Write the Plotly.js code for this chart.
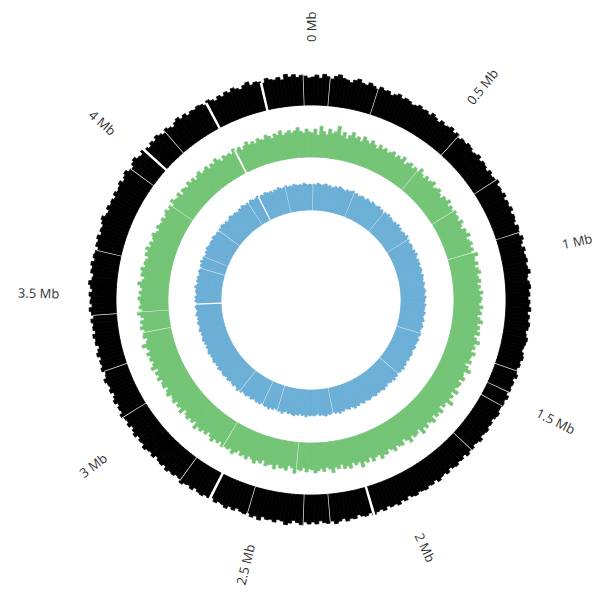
<!DOCTYPE html>
<html>
<head>
<meta charset="utf-8">
<script src="https://cdn.plot.ly/plotly-3.0.1.min.js"></script>
<style>
html, body { margin: 0; padding: 0; background: #fff; }
#plot { width: 604px; height: 604px; }
</style>
</head>
<body>
<div id="plot"></div>
<script>
// genome length and ruler
const genomeMb = 4.64;
const tickMb = [0, 0.5, 1, 1.5, 2, 2.5, 3, 3.5, 4];
const tickLabels = ['0 Mb', '0.5 Mb', '1 Mb', '1.5 Mb', '2 Mb', '2.5 Mb', '3 Mb', '3.5 Mb', '4 Mb'];

// outer track (black), one value per window, clockwise from 0 Mb
const outerTrack = [
  28,30,27,31,29,27,30,32,29,28,26,29,31,28,27,30,28,26,29,27,28,25,27,29,26,28,27,25,26,28,
  26,27,25,28,26,24,27,25,26,28,25,27,24,26,25,27,26,24,25,27,24,26,25,23,26,24,25,27,24,25,
  24,26,23,25,24,26,23,25,24,22,25,24,23,26,24,22,25,23,24,25,23,24,26,23,22,24,25,23,24,22,
  24,23,25,22,24,23,25,24,22,23,25,24,23,22,24,25,23,24,22,23,25,22,24,23,24,22,25,23,24,23,
  23,25,24,22,24,23,25,24,23,26,24,23,25,24,26,23,25,24,26,25,23,26,24,25,27,24,26,25,27,26,
  25,27,26,24,27,25,28,26,27,25,28,26,27,29,26,28,27,25,28,27,29,26,28,30,27,29,28,26,29,27,
  29,27,30,28,26,29,31,28,27,30,28,29,27,31,28,30,27,29,28,26,29,27,30,28,27,29,26,28,27,29,
  28,26,29,27,28,30,27,26,28,27,29,26,28,27,25,28,26,27,29,26,27,25,28,26,24,27,25,26,28,25,
  26,24,27,25,23,26,24,25,27,24,23,26,24,25,23,26,24,22,25,24,26,23,25,24,26,23,25,27,24,26,
  25,27,24,26,28,25,24,27,26,28,25,27,26,24,27,26,28,25,27,26,28,30,27,26,29,27,28,26,29,27,
  28,30,27,29,31,28,27,30,32,29,28,31,29,27,30,28,31,29,27,30,28,26,29,31,28,30,27,29,28,30,
  29,27,30,28,26,29,27,30,28,31,29,27,30,32,28,30,29,27,31,29,28,30,27,32,29,31,28,30,29,27
];

// middle track (green)
const middleTrack = [
  24,28,22,31,26,23,29,25,27,33,24,28,22,26,30,25,27,23,29,26,24,28,25,22,27,24,26,23,25,27,
  23,26,24,28,22,25,27,23,26,24,29,25,23,27,24,26,28,23,25,27,24,22,26,25,28,23,26,24,27,25,
  26,24,28,25,23,27,26,29,24,26,28,25,27,24,30,26,25,28,24,27,29,25,26,28,24,27,25,29,26,28,
  27,25,29,26,28,24,27,30,25,28,26,29,24,27,31,26,28,25,30,27,26,29,24,28,32,26,27,30,25,29,
  28,26,31,25,29,27,33,26,28,24,30,27,29,25,31,28,26,30,27,32,25,28,29,26,31,27,24,29,28,26,
  30,27,25,29,28,31,26,27,30,25,29,27,32,26,28,25,30,27,29,24,28,26,31,27,25,29,26,28,30,27,
  26,29,25,28,27,31,26,24,29,27,28,25,30,26,27,29,24,28,26,30,27,25,29,26,28,24,27,30,26,28,
  27,29,25,28,26,30,27,24,28,26,29,27,31,25,28,26,29,27,24,30,26,28,25,29,27,26,30,28,25,29,
  28,26,30,27,29,25,31,28,26,29,27,30,26,28,32,27,25,29,28,26,30,27,29,25,28,31,26,29,27,28,
  30,27,29,26,28,31,27,25,29,28,30,26,28,27,25,29,27,30,26,28,25,27,29,26,24,28,26,25,27,24,
  26,28,25,27,24,29,26,25,28,23,27,26,24,28,25,27,23,26,28,24,25,27,23,26,24,28,25,22,26,24,
  25,23,27,24,26,22,25,28,24,26,23,27,25,24,28,26,23,27,25,29,24,26,28,25,27,30,26,24,28,25
];

// inner track (blue)
const innerTrack = [
  25,26,25,27,26,25,26,27,25,26,24,25,26,25,27,26,25,24,26,25,26,27,25,26,24,25,26,25,24,26,
  25,24,26,25,24,25,26,24,25,23,25,24,26,24,25,24,23,25,24,26,24,25,23,24,25,24,26,24,25,23,
  24,25,24,23,25,24,26,24,23,25,24,25,23,24,25,24,23,25,24,24,23,25,24,23,24,25,24,23,25,24,
  24,23,25,24,24,23,25,24,23,24,25,23,24,25,24,23,24,25,24,23,25,24,24,23,25,24,23,24,25,24,
  24,25,23,24,25,24,26,24,25,24,23,25,24,26,24,25,24,23,25,24,26,25,24,25,24,26,25,24,25,26,
  25,24,26,25,24,26,25,27,25,24,26,25,24,26,25,27,25,26,24,25,26,25,27,26,25,26,24,25,26,25,
  26,25,27,25,26,24,26,25,27,26,25,26,24,25,27,25,26,25,24,26,25,27,25,26,25,24,26,25,26,24,
  25,26,24,25,26,25,24,26,25,27,25,24,26,25,24,25,26,24,25,26,25,24,25,26,24,25,24,26,25,24,
  25,24,26,25,24,25,23,25,24,26,25,24,25,24,26,25,24,25,26,24,25,24,26,25,24,25,26,25,24,26,
  25,26,24,25,26,25,27,25,24,26,25,26,24,25,26,25,24,26,25,27,25,26,25,24,26,25,27,26,25,26,
  26,25,27,26,25,26,24,26,25,27,26,25,26,24,25,27,26,25,26,25,24,26,25,27,26,25,26,25,27,26,
  25,26,27,25,26,25,27,26,25,26,24,26,25,27,26,25,26,27,25,26,25,27,26,25,26,25,27,26,25,26
];

// empty windows (Mb)
const outerGapsThin = [0.064, 0.228, 0.541, 0.735, 0.928, 1.405, 1.482, 1.534, 1.714, 2.256, 2.346, 2.534, 2.784, 3.068, 3.235, 3.428, 3.648, 3.944, 4.112, 4.614];
const outerGapsWide = [2.109, 2.668, 4.021, 4.279, 4.473];
const middleGapsThin = [0.509, 0.748, 0.949, 2.384, 2.720, 3.338, 3.428, 3.918];
const middleGapsWide = [4.292];
const innerGapsThin = [0.013, 0.284, 0.516, 0.748, 1.379, 1.676, 2.178, 2.539, 2.642, 2.810, 3.686, 3.764, 3.957, 4.215, 4.473];
const innerGapsWide = [4.292, 3.454];

const mbToDeg = mb => mb / genomeMb * 360;

function ring(values, base, color) {
  const n = values.length;
  return {
    type: 'barpolar',
    r: values,
    base: values.map(() => base),
    theta: values.map((v, i) => (i + 0.5) * 360 / n),
    width: values.map(() => 360 / n),
    // outline in the fill colour hides the hairline seams between bars
    marker: { color: color, line: { color: color, width: 0.8 } },
    hoverinfo: 'skip'
  };
}

// a gap cuts through its ring only as far as the bar it sits in
function gaps(positions, track, base, w, color) {
  const n = track.length;
  return {
    type: 'barpolar',
    r: positions.map(mb => track[Math.min(n - 1, Math.floor(mb / genomeMb * n))] + 2),
    base: positions.map(() => base - 1),
    theta: positions.map(mbToDeg),
    width: positions.map(() => w),
    marker: { color: color || '#ffffff', line: { width: 0 } },
    hoverinfo: 'skip'
  };
}

const data = [
  ring(outerTrack, 195, '#000000'),
  ring(middleTrack, 143, '#74c476'),
  ring(innerTrack, 90, '#6baed6'),
  gaps(outerGapsThin, outerTrack, 195, 0.2, '#e8e8e8'),
  gaps(outerGapsWide, outerTrack, 195, 0.7),
  gaps(middleGapsThin, middleTrack, 143, 0.2, '#eef7ee'),
  gaps(middleGapsWide, middleTrack, 143, 0.7),
  gaps(innerGapsThin, innerTrack, 90, 0.25, '#f0f6fb'),
  gaps(innerGapsWide, innerTrack, 90, 0.7)
];

// circle geometry in pixels
const W = 604, H = 604;
const cx = 311, cy = 300, R = 292, labelR = 273;

const annotations = tickMb.map((mb, i) => {
  const deg = mbToDeg(mb);
  const rad = deg * Math.PI / 180;
  let ang = deg - 90;
  if (deg > 180) ang = deg - 270;
  return {
    xref: 'paper', yref: 'paper',
    x: (cx + labelR * Math.sin(rad)) / W,
    y: (H - cy + labelR * Math.cos(rad)) / H,
    text: tickLabels[i],
    showarrow: false,
    textangle: ang,
    xanchor: 'center', yanchor: 'middle',
    font: { family: 'Open Sans, sans-serif', size: 13, color: '#333333' }
  };
});

const layout = {
  width: W,
  height: H,
  margin: { l: 0, r: 0, t: 0, b: 0 },
  paper_bgcolor: '#ffffff',
  showlegend: false,
  polar: {
    domain: { x: [(cx - R) / W, (cx + R) / W], y: [(H - cy - R) / H, (H - cy + R) / H] },
    bgcolor: '#ffffff',
    barmode: 'overlay',
    bargap: 0,
    radialaxis: { visible: false, range: [0, R] },
    angularaxis: { visible: false, direction: 'clockwise', rotation: 90 }
  },
  annotations: annotations
};

Plotly.newPlot('plot', data, layout, { staticPlot: true });
</script>
</body>
</html>
